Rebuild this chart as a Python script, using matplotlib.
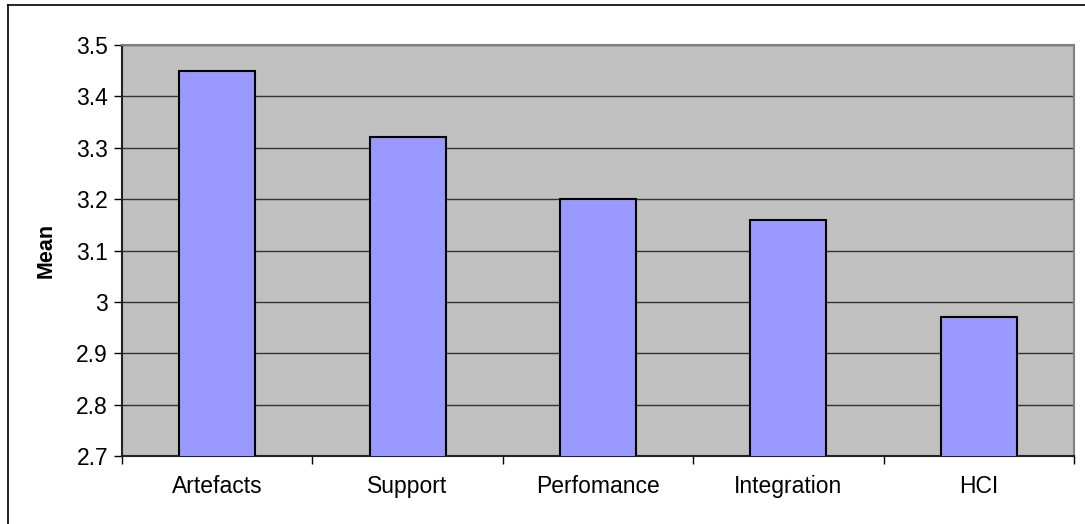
import numpy as np
import matplotlib.pyplot as plt
from matplotlib.lines import Line2D
from matplotlib.ticker import FixedLocator, FormatStrFormatter

categories = ["Artefacts", "Support", "Perfomance", "Integration", "HCI"]
means = [3.45, 3.32, 3.20, 3.16, 2.97]
y_ticks = [2.7, 2.8, 2.9, 3.0, 3.1, 3.2, 3.3, 3.4, 3.5]

plt.rcParams['font.family'] = ['Liberation Sans', 'DejaVu Sans']

fig = plt.figure(figsize=(10.85, 5.24), dpi=100)
ax = fig.add_axes([122 / 1085, 1 - 456 / 524, (1074 - 122) / 1085, (456 - 45) / 524])
ax.set_facecolor("#C0C0C0")

x = np.arange(len(categories))
ax.bar(x, means, width=0.4, color="#9999FF", edgecolor="black", linewidth=1.5, zorder=3)

ax.set_xlim(-0.5, len(categories) - 0.5)
ax.set_ylim(2.7, 3.5)

# gridlines every 0.1
ax.set_yticks(y_ticks)
ax.yaxis.set_major_formatter(FormatStrFormatter('%g'))
ax.grid(axis="y", color="#333333", linewidth=1, zorder=1)
ax.set_axisbelow(True)

# category labels centred, tick marks between categories
ax.set_xticks(x)
ax.set_xticklabels(categories)
ax.xaxis.set_minor_locator(FixedLocator(np.arange(-0.5, len(categories), 1.0)))
ax.tick_params(axis="x", which="major", length=0, pad=14, labelsize=16.5)
ax.tick_params(axis="x", which="minor", length=6, width=1, color="black", direction="out")
ax.tick_params(axis="y", length=6, width=1, pad=4, labelsize=16.5, color="black")

ax.set_ylabel("Mean", fontsize=15.5, fontweight="bold", labelpad=14)

for side in ["top", "right"]:
    ax.spines[side].set_color("#808080")
    ax.spines[side].set_linewidth(1.5)
for side in ["left", "bottom"]:
    ax.spines[side].set_color("#222222")
    ax.spines[side].set_linewidth(1.5)

# outer chart frame (cut off at right and bottom)
fx, fy = 8 / 1085, 1 - 5 / 524
fig.add_artist(Line2D([fx, fx], [0, fy], color="black", linewidth=1.2))
fig.add_artist(Line2D([fx, 1], [fy, fy], color="black", linewidth=1.2))

fig.savefig("out.png", dpi=100, facecolor="white")
